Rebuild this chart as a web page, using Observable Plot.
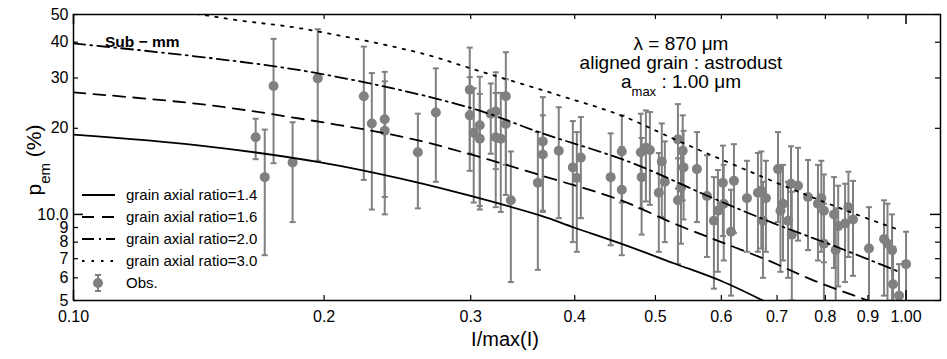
<!DOCTYPE html>
<html><head><meta charset="utf-8">
<script src="https://cdn.jsdelivr.net/npm/d3@7"></script>
<script src="https://cdn.jsdelivr.net/npm/@observablehq/plot@0.6"></script>
<style>body{margin:0;background:#fff} svg{display:block}</style>
</head><body><div id="chart"></div>
<script>
// Observations: I/max(I), p_em (%), error (%)
const obsX = [0.1655,0.1697,0.1739,0.1833,0.1965,0.2232,0.2282,0.2365,0.2365,0.2592,
0.2724,0.2992,0.2992,0.3025,0.3076,0.3076,0.3171,0.3215,0.3215,0.3260,
0.3306,0.3306,0.3352,0.3612,0.3662,0.3662,0.3827,0.3979,0.4023,0.4068,
0.4418,0.4556,0.4556,0.4802,0.4813,0.4870,0.4924,0.5047,0.5089,0.5132,
0.5321,0.5321,0.5392,0.5405,0.5366,0.5608,0.5766,0.5878,0.5943,0.6026,
0.6040,0.6162,0.6213,0.6440,0.6639,0.6701,0.6787,0.6732,0.7018,0.7066,
0.7115,0.7215,0.7275,0.7417,0.7291,0.7625,0.7838,0.7911,0.7968,0.7968,
0.8194,0.8232,0.8289,0.8448,0.8527,0.8635,0.9026,0.9410,0.9500,0.9621,
0.9647,0.9808,1.0];
const obsY = [18.6,13.5,28.1,15.2,29.9,25.9,20.8,21.5,19.6,16.5,
22.7,27.3,22.2,19.3,20.5,18.4,22.5,22.9,18.6,18.4,
25.9,20.7,11.2,12.9,18.0,16.2,16.7,14.6,13.4,15.8,
13.5,16.6,12.2,16.5,13.5,17.1,16.8,11.9,15.3,13.0,
18.3,11.2,16.7,14.6,12.4,14.4,11.6,9.5,10.3,12.9,
10.9,8.7,13.1,11.4,11.9,12.1,11.4,9.5,14.4,10.3,
10.9,9.5,12.8,12.6,8.5,11.5,10.9,11.4,10.3,7.9,
10.0,7.5,9.1,9.3,10.6,9.6,7.6,8.2,7.9,7.5,
5.7,5.2,6.7];
const obsErr = [3.0,6.3,13,5.8,14.5,12.7,10.4,10,9.6,6,
9.7,11,8,8.3,9.8,8,6.2,8.5,8,8.2,
11,9,5.4,6.5,7.7,6,7,6.6,6,6.1,
5.7,5.6,5,6,5,6,6,4.5,5.5,5,
6,4.5,5.5,5,4.5,5,4.5,4,4,4.5,
4,3.5,4.5,4,4.5,4.5,4,3.5,5,4,
4,3.5,4.5,4.5,3.5,4,4,4,3.5,3,
3.5,3,3.5,3.5,3.5,3.5,3,3,3,2.5,
2,1.5,2];

// Model curves (grain axial ratio)
const modelX14 = [0.1,0.142,0.198,0.254,0.3,0.364,0.399,0.4545,0.526,0.6,0.673];
const modelY14 = [19.0,17.4,15.2,13.1,11.6,9.9,9.0,7.9,6.75,5.85,5.0];
const modelX16 = [0.1,0.142,0.1875,0.25,0.298,0.364,0.4545,0.526,0.6,0.683,0.775,0.9];
const modelY16 = [26.7,24.3,21.6,18.6,16.3,13.7,11.2,9.3,8.0,6.9,5.87,5.0];
const modelX20 = [0.1,0.1875,0.298,0.364,0.467,0.578,0.694,0.829,0.986];
const modelY20 = [39.6,31.9,23.7,19.3,15.2,11.6,9.3,7.66,6.26];
const modelX30 = [0.13,0.142,0.1587,0.1875,0.2625,0.298,0.3827,0.4545,0.5366,0.7275,0.866,0.986];
const modelY30 = [52,50,47.6,44.7,36.5,32.6,26.1,22.2,17.9,12.3,10.07,8.78];

const xTicks = [0.1,0.2,0.3,0.4,0.5,0.6,0.7,0.8,0.9,1.0];
const xMajor = [0.1,1.0];
const xMinor = [0.2,0.3,0.4,0.5,0.6,0.7,0.8,0.9];
const yTicks = [5,6,7,8,9,10,20,30,40,50];
const yMajor = [10];
const yMinor = [5,6,7,8,9,20,30,40,50];
const legendLabels = ["grain axial ratio=1.4","grain axial ratio=1.6","grain axial ratio=2.0","grain axial ratio=3.0","Obs."];
const dashes = [null,"12,8","12,5,2,5","2.5,7"];

const obs = obsX.map((x,i)=>({x, y: obsY[i], e: obsErr[i]}));
const mk = (xs, ys) => xs.map((x,i)=>({x, y: ys[i]}));
const curves = [mk(modelX14,modelY14), mk(modelX16,modelY16), mk(modelX20,modelY20), mk(modelX30,modelY30)];

const W = 947, H = 359, mL = 73, mR = 7, mT = 14, mB = 59;
const pw = W - mL - mR, ph = H - mT - mB;
const grey = "#808080";
const capSymbol = {draw(ctx, size){ const w = Math.sqrt(size/Math.PI); ctx.moveTo(-w,0); ctx.lineTo(w,0); }};

const marks = [
  Plot.ruleX(obs, {x:"x", y1:d=>d.y-d.e, y2:d=>d.y+d.e, stroke:grey, strokeWidth:2, clip:true}),
  Plot.dot(obs, {x:"x", y:d=>d.y+d.e, symbol:capSymbol, r:3, stroke:grey, strokeWidth:2, clip:true}),
  Plot.dot(obs, {x:"x", y:d=>d.y-d.e, symbol:capSymbol, r:3, stroke:grey, strokeWidth:2, clip:true}),
  Plot.dot(obs, {x:"x", y:"y", r:5, fill:grey, stroke:"none", clip:true}),
  ...curves.map((c,i)=>Plot.line(c, {x:"x", y:"y", stroke:"black", strokeWidth:1.8, curve:"catmull-rom", clip:true, strokeDasharray: dashes[i] || undefined})),
  Plot.tickX(xMinor, {x:d=>d, insetTop: ph-5, stroke:"black", strokeWidth:1.2}),
  Plot.tickX(xMinor, {x:d=>d, insetBottom: ph-5, stroke:"black", strokeWidth:1.2}),
  Plot.tickX(xMajor, {x:d=>d, insetTop: ph-10, stroke:"black", strokeWidth:1.5}),
  Plot.tickX(xMajor, {x:d=>d, insetBottom: ph-10, stroke:"black", strokeWidth:1.5}),
  Plot.tickY(yMinor, {y:d=>d, insetRight: pw-5, stroke:"black", strokeWidth:1.2}),
  Plot.tickY(yMinor, {y:d=>d, insetLeft: pw-5, stroke:"black", strokeWidth:1.2}),
  Plot.tickY(yMajor, {y:d=>d, insetRight: pw-10, stroke:"black", strokeWidth:1.5}),
  Plot.tickY(yMajor, {y:d=>d, insetLeft: pw-10, stroke:"black", strokeWidth:1.5}),
  Plot.frame({stroke:"black", strokeWidth:1.5})
];

const svg = Plot.plot({
  width: W, height: H, marginLeft: mL, marginRight: mR, marginTop: mT, marginBottom: mB,
  x: {type:"log", domain:[0.1,1.1], ticks:xTicks, tickSize:0, tickPadding:10, label:null,
      tickFormat: d => d===0.1 ? "0.10" : d===1 ? "1.00" : d.toFixed(1)},
  y: {type:"log", domain:[5,50], ticks:yTicks, tickSize:0, tickPadding:5, label:null,
      tickFormat: d => d===10 ? "10.0" : String(d)},
  style: {fontFamily:"'Liberation Sans', Arial, sans-serif", fontSize:"16px", color:"black", background:"white"},
  marks
});
document.getElementById("chart").appendChild(svg);

// Texts and legend
const s = d3.select(svg);
const ff = "'Liberation Sans', Arial, sans-serif";
const yl = s.append("text").attr("transform","translate(41,160) rotate(-90)").attr("text-anchor","middle")
  .style("font-family",ff).style("font-size","21px").attr("fill","black");
yl.append("tspan").text("p");
yl.append("tspan").attr("baseline-shift","sub").style("font-size","15px").text("em");
yl.append("tspan").text(" (%)");
s.append("text").attr("x",505).attr("y",346).attr("text-anchor","middle")
  .style("font-family",ff).style("font-size","20px").attr("fill","black").text("I/max(I)");
s.append("text").attr("x",105).attr("y",47).attr("text-anchor","start").style("font-family",ff).style("font-size","15.5px")
  .style("font-weight","bold").attr("fill","black").text("Sub − mm");
const ann = [["λ = 870 μm",50],["aligned grain : astrodust",69]];
ann.forEach(([t,y])=>s.append("text").attr("x",681).attr("y",y).attr("text-anchor","middle")
  .style("font-family",ff).style("font-size","19px").attr("fill","black").text(t));
const am = s.append("text").attr("x",681).attr("y",88).attr("text-anchor","middle")
  .style("font-family",ff).style("font-size","19px").attr("fill","black");
am.append("tspan").text("a");
am.append("tspan").attr("baseline-shift","sub").style("font-size","13px").text("max");
am.append("tspan").text(" : 1.00 μm");

const rows = [195,217,239,261,283];
rows.forEach((ry,i)=>{
  if (i<4) {
    const ln = s.append("line").attr("x1",82).attr("x2",115).attr("y1",ry).attr("y2",ry)
      .attr("stroke","black").attr("stroke-width",1.8);
    if (dashes[i]) ln.attr("stroke-dasharray",dashes[i]);
  } else {
    s.append("line").attr("x1",98).attr("x2",98).attr("y1",ry-8).attr("y2",ry+8).attr("stroke",grey).attr("stroke-width",2);
    s.append("line").attr("x1",95).attr("x2",101).attr("y1",ry-8).attr("y2",ry-8).attr("stroke",grey).attr("stroke-width",2);
    s.append("line").attr("x1",95).attr("x2",101).attr("y1",ry+8).attr("y2",ry+8).attr("stroke",grey).attr("stroke-width",2);
    s.append("circle").attr("cx",98).attr("cy",ry).attr("r",5).attr("fill",grey);
  }
  s.append("text").attr("x",126).attr("y",ry+5).attr("text-anchor","start").style("font-family",ff).style("font-size","15px")
    .attr("fill","black").text(legendLabels[i]);
});
</script>
</body></html>
